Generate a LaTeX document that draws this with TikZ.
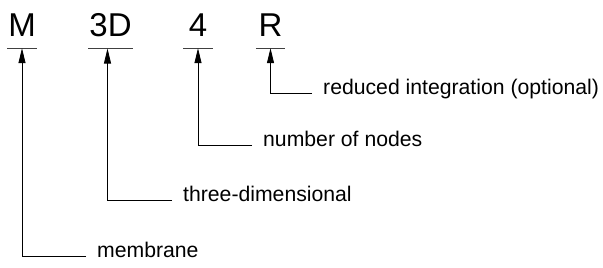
\documentclass[tikz,border=0pt]{standalone}
\usepackage{fontspec}
\setmainfont{Liberation Sans}
\usetikzlibrary{arrows.meta}
\begin{document}
\begin{tikzpicture}[x=1pt,y=1pt,
  code/.style={font=\fontsize{33}{33}\selectfont,anchor=base,inner xsep=1pt,inner ysep=11pt,minimum width=29pt},
  desc/.style={font=\fontsize{21.2}{21.2}\selectfont,anchor=base west,inner xsep=11pt,inner ysep=0pt},
  lead/.style={line width=0.8pt,-{Triangle[length=15pt,width=7pt]}},
  rule/.style={line width=0.9pt,black!75}]
\useasboundingbox (0,0) rectangle (603,268);

\node[code] (M) at (22,231) {M};
\node[code] (D) at (110.5,231) {3D};
\node[code] (N) at (198,231) {4};
\node[code] (R) at (270.5,231) {R};

\draw[rule] (M.south west) -- (M.south east);
\draw[rule] (D.south west) -- (D.south east);
\draw[rule] (N.south west) -- (N.south east);
\draw[rule] (R.south west) -- (R.south east);

\node[desc] (mem) at (86,10) {membrane};
\node[desc] (dim) at (172,66) {three-dimensional};
\node[desc] (nod) at (252,121) {number of nodes};
\node[desc] (red) at (312,173) {reduced integration (optional)};

\draw[lead] ([yshift=2pt]mem.base west) -| (M.south);
\draw[lead] ([yshift=2pt]dim.base west) -| ([xshift=-3pt]D.south);
\draw[lead] ([yshift=2pt]nod.base west) -| (N.south);
\draw[lead] ([yshift=2pt]red.base west) -| (R.south);
\end{tikzpicture}
\end{document}
